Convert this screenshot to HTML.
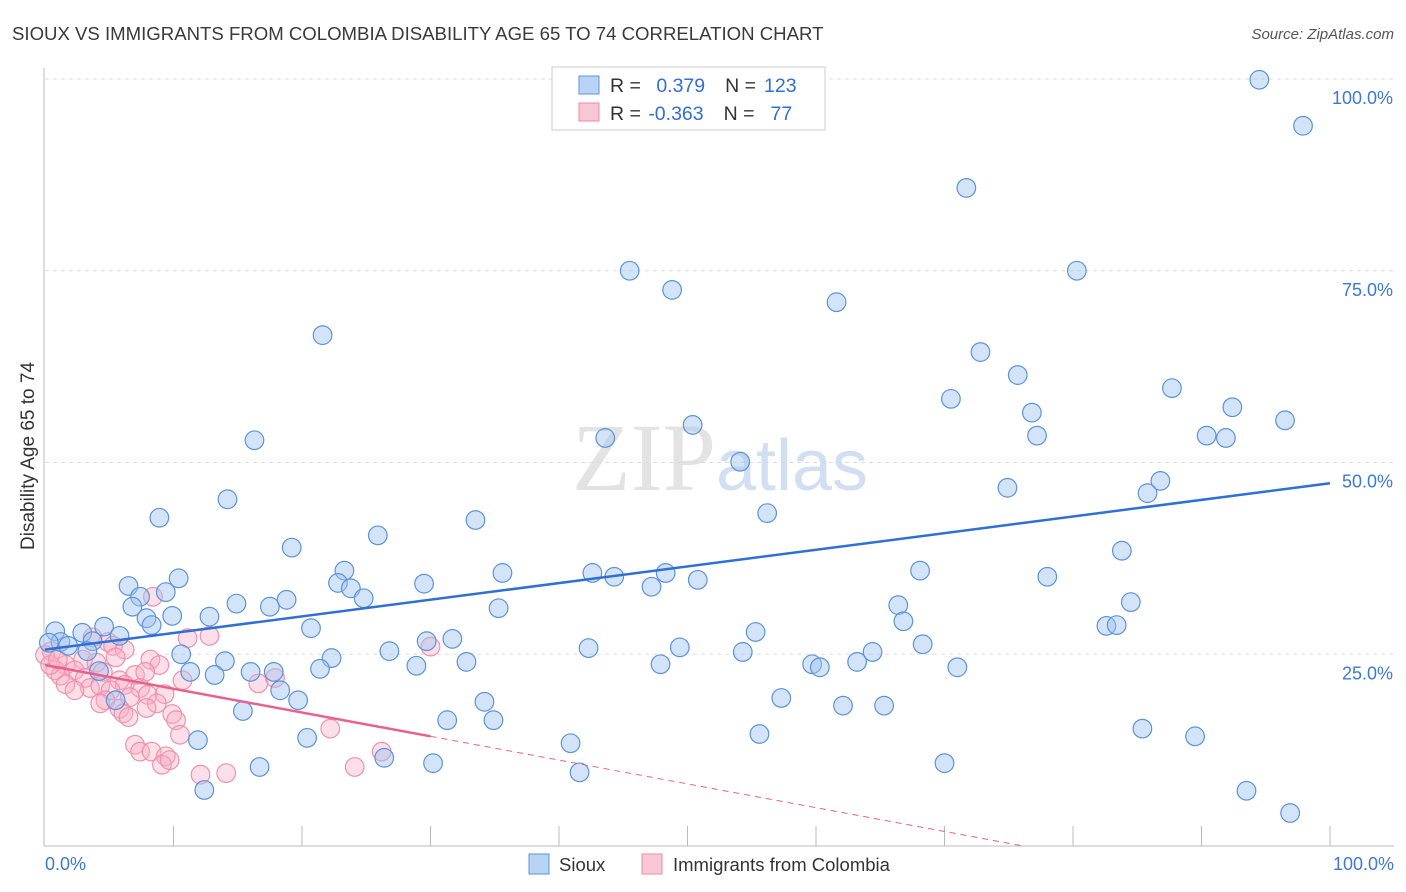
<!DOCTYPE html>
<html><head><meta charset="utf-8"><style>
body{margin:0;background:#fff;font-family:"Liberation Sans",sans-serif;}
svg{display:block}
</style></head><body>
<svg id="chart" width="1406" height="892" xmlns="http://www.w3.org/2000/svg">
<text x="12" y="40" font-size="18.6" fill="#3a3a3a">SIOUX VS IMMIGRANTS FROM COLOMBIA DISABILITY AGE 65 TO 74 CORRELATION CHART</text>
<text x="1394" y="39" font-size="15" fill="#555" font-style="italic" text-anchor="end">Source: ZipAtlas.com</text>
<g id="grid"></g>
<text x="720" y="490" font-size="96" text-anchor="middle" font-family="Liberation Serif" fill="#ddd" opacity="0.8">ZIP<tspan font-family="Liberation Sans" font-size="72" fill="#c8d8ef">atlas</tspan></text>
<g id="pts"></g>
<g id="trend"></g>
<text transform="translate(34,456) rotate(-90)" font-size="19" fill="#333" text-anchor="middle">Disability Age 65 to 74</text>
<text x="45" y="870" font-size="18" fill="#3c78d8">0.0%</text>
<text x="1394" y="870" font-size="18" fill="#3c78d8" text-anchor="end">100.0%</text>
<g>
<rect x="552" y="67" width="273" height="63" fill="#fff" stroke="#ccc"/>
<rect x="579" y="76" width="20" height="18" fill="#b9d3f5" stroke="#5b93db"/>
<rect x="579" y="103" width="20" height="18" fill="#f9c6d5" stroke="#f08aa8"/>
<text x="610" y="92" font-size="19.5" fill="#333">R = <tspan fill="#2f6fd6" dx="10">0.379</tspan><tspan dx="20">N =</tspan><tspan fill="#2f6fd6" dx="8">123</tspan></text>
<text x="610" y="120" font-size="19.5" fill="#333">R = <tspan fill="#2f6fd6" dx="2">-0.363</tspan><tspan dx="20">N =</tspan><tspan fill="#2f6fd6" dx="16">77</tspan></text>
</g>
<g>
<rect x="529" y="854" width="20" height="20" fill="#b9d3f5" stroke="#5b93db"/>
<text x="559" y="871" font-size="18.5" fill="#333">Sioux</text>
<rect x="642" y="854" width="20" height="20" fill="#f9c6d5" stroke="#f08aa8"/>
<text x="673" y="871" font-size="18.5" fill="#333">Immigrants from Colombia</text>
</g>
</svg>
<script>
const yTicks=[25,50,75,100];
const yTickLabels=["25.0%","50.0%","75.0%","100.0%"];
const xTicks=[10,20,30,40,50,60,70,80,90,100];
const blueX=[94.5,97.9,71.7,45.5,80.3,48.8,61.6,21.6,72.8,75.7,87.7,70.5,92.4,76.8,96.5,16.3,43.6,50.4,77.2,90.4,91.9,54.1,86.8,74.9,85.8,14.2,8.9,33.5,56.2,25.9,19.2,83.8,35.6,42.6,48.3,23.3,68.1,78.0,10.4,44.3,50.8,6.5,22.8,29.5,47.2,23.8,9.4,7.4,24.8,18.8,14.9,84.5,6.8,17.5,66.4,35.3,9.9,12.8,7.9,8.3,66.8,82.6,83.4,0.8,2.9,4.6,20.7,55.3,5.8,3.7,29.7,31.7,1.2,1.8,3.3,26.8,42.3,49.4,68.3,10.6,54.3,64.4,14.0,22.3,32.8,28.9,47.9,63.2,59.7,60.3,71.0,21.4,11.3,16.0,17.8,13.2,4.2,18.3,19.7,57.3,34.2,5.5,62.1,65.3,15.4,31.3,34.9,85.4,89.5,11.9,20.4,55.6,40.9,26.4,16.7,30.2,70.0,41.6,12.4,93.5,96.9,0.3];
const blueY=[99.9,93.9,85.8,75.0,75.0,72.5,70.9,66.6,64.4,61.4,59.7,58.3,57.2,56.5,55.5,52.9,53.2,54.9,53.5,53.5,53.2,50.1,47.6,46.7,46.0,45.2,42.8,42.5,43.4,40.5,38.9,38.5,35.6,35.6,35.6,35.9,35.9,35.1,34.9,35.1,34.7,33.9,34.3,34.2,33.8,33.6,33.1,32.5,32.3,32.1,31.6,31.8,31.2,31.2,31.4,31.0,30.0,29.9,29.7,28.8,29.3,28.7,28.8,28.0,27.8,28.6,28.4,27.9,27.4,26.7,26.7,27.0,26.6,26.1,25.4,25.4,25.8,25.9,26.3,25.0,25.3,25.3,24.1,24.5,24.0,23.5,23.7,24.0,23.7,23.3,23.3,23.1,22.7,22.7,22.7,22.3,22.8,20.3,19.0,19.3,18.8,19.0,18.3,18.3,17.6,16.4,16.4,15.3,14.3,13.8,14.1,14.6,13.4,11.5,10.3,10.8,10.8,9.6,7.3,7.2,4.3,26.5];
const pinkX=[8.4,4.9,11.1,12.8,3.7,5.3,6.2,30.0,0.5,0,2.96,5.5,8.2,8.9,4.0,1.6,0.8,2.3,4.5,7.0,7.8,1.2,3.1,5.8,10.7,16.6,17.9,1.6,3.5,4.3,6.2,7.4,5.1,2.3,8.0,9.3,6.6,4.7,4.3,8.7,5.8,7.9,6.1,6.5,9.9,10.2,10.5,22.2,7.0,7.4,8.3,9.4,9.1,9.7,26.2,12.1,14.1,24.1,0.4,1.0];
const pinkY=[32.5,26.6,27.1,27.4,27.2,26.1,25.6,26.0,25.4,24.9,24.3,24.6,24.3,23.6,23.9,23.6,22.9,22.9,22.7,22.3,22.7,22.2,21.9,21.6,21.6,21.2,21.9,21.1,20.6,20.9,21.0,20.6,20.3,20.3,19.7,19.8,19.4,19.0,18.6,18.6,17.9,18.0,17.3,16.8,17.2,16.4,14.5,15.3,13.2,12.3,12.3,11.7,10.6,11.2,12.3,9.3,9.5,10.3,23.6,24.3];
const blueTrend=[25.6,47.3];
const pinkTrend=[23.6,-0.31];
const NS="http://www.w3.org/2000/svg";
const X0=45,X1=1330,Y0=846,Y1=79;
const sx=v=>X0+(X1-X0)*v/100, sy=v=>Y0-(Y0-Y1)*v/100;
function mk(tag,attrs,parent){const e=document.createElementNS(NS,tag);for(const k in attrs)e.setAttribute(k,attrs[k]);parent.appendChild(e);return e;}
const grid=document.getElementById('grid');
yTicks.forEach((t,i)=>{
 const l=mk('line',{x1:45,x2:1394,y1:sy(t),y2:sy(t),stroke:'#ddd','stroke-dasharray':'4,4'},grid);
 
 
 const tx=mk('text',{x:1393,y:sy(t)+25,'font-size':18,fill:'#3c78d8','text-anchor':'end'},grid);
 tx.textContent=yTickLabels[i];
 
 
});
const ax=mk('line',{x1:44,x2:44,y1:68,y2:846,stroke:'#bbb'},grid);


const bx=mk('line',{x1:44,x2:1394,y1:846,y2:846,stroke:'#bbb'},grid);


xTicks.forEach(t=>{
 const l=mk('line',{x1:sx(t),x2:sx(t),y1:826,y2:846,stroke:'#bbb'},grid);
 
 
});
const pts=document.getElementById('pts');
pinkX.forEach((x,i)=>{
 const c=mk('circle',{cx:sx(x),cy:sy(pinkY[i]),r:9.3,fill:'rgba(248,175,198,0.4)',stroke:'#f090ae','stroke-width':1.2},pts);
 
 
});
blueX.forEach((x,i)=>{
 const c=mk('circle',{cx:sx(x),cy:sy(blueY[i]),r:9.3,fill:'rgba(160,196,240,0.45)',stroke:'#5b93db','stroke-width':1.2},pts);
 
 
});
const tr=document.getElementById('trend');
const b=mk('line',{x1:sx(0),y1:sy(blueTrend[0]),x2:sx(100),y2:sy(blueTrend[1]),stroke:'#2f6fd6','stroke-width':2.5},tr);


const pf=x=>pinkTrend[0]+pinkTrend[1]*x;
const p=mk('line',{x1:sx(0),y1:sy(pf(0)),x2:sx(30),y2:sy(pf(30)),stroke:'#ea5f8c','stroke-width':2.5},tr);


const xe=-pinkTrend[0]/pinkTrend[1];
const pd=mk('line',{x1:sx(30),y1:sy(pf(30)),x2:sx(xe),y2:sy(0),stroke:'#ea5f8c','stroke-width':1,'stroke-dasharray':'6,5'},tr);


</script>
</body></html>
